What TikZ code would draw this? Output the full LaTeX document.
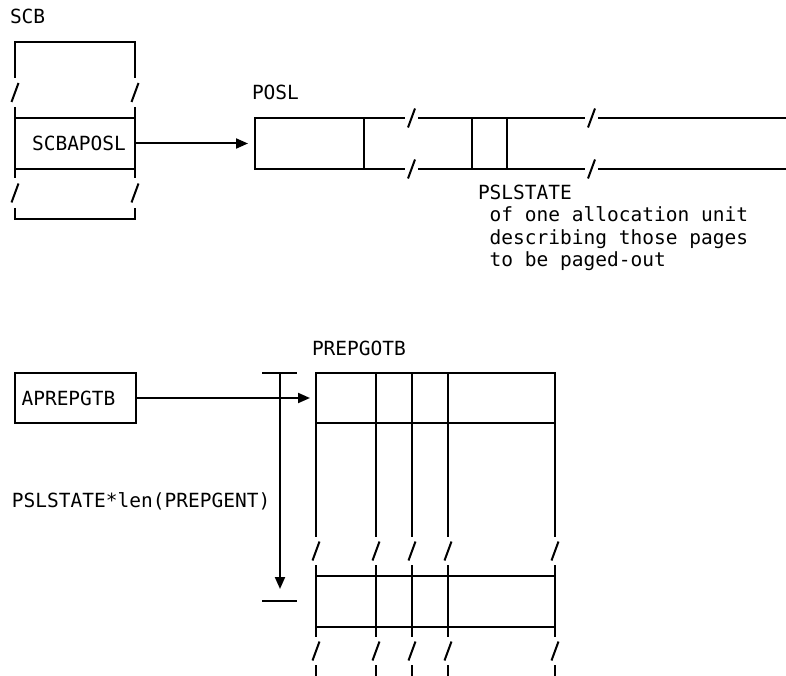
\documentclass[tikz,border=0pt]{standalone}
\usepackage{fontspec}
\setmonofont{DejaVu Sans Mono}
\usetikzlibrary{arrows.meta, positioning}

% slash marks for broken lines
\newcommand{\vslash}[2]{\draw (#1-3.5,#2+9.5) -- (#1+3.5,#2-9.5);}
\newcommand{\hslash}[2]{\draw (#1-3.5,#2+9.5) -- (#1+3.5,#2-9.5);}

\begin{document}
\begin{tikzpicture}[x=1pt, y=-1pt, line width=2pt,
	every node/.style={font=\ttfamily\fontsize{19.5}{22}\selectfont, inner sep=0pt},
	lbl/.style={anchor=base west},
	cell/.style={draw, anchor=north west, outer sep=0pt, minimum height=51pt},
	ptr/.style={-{Triangle[length=12pt, width=10pt]}}]
	\useasboundingbox (0,0) rectangle (786,676);

	% SCB control block
	\node[lbl] (scb) at (9,24) {SCB};
	\draw (15,78) -- (15,42) -- (135,42) -- (135,78);
	\vslash{15}{92.5} \vslash{135}{92.5}
	\draw (15,107) -- (15,178);
	\draw (135,107) -- (135,178);
	\vslash{15}{193} \vslash{135}{193}
	\draw (15,208) -- (15,219) -- (135,219) -- (135,208);
	\node[cell, minimum width=120pt] (scbaposl) at (15,118) {\hspace*{8pt}SCBAPOSL};

	% POSL
	\node[lbl] (posl) at (251,100) {POSL};
	\node[cell, minimum width=109pt] (posl1) at (255,118) {};
	\foreach \y in {118,169} {
		\draw (364,\y) -- (405,\y);
		\hslash{411.5}{\y}
		\draw (418,\y) -- (585,\y);
		\hslash{591.5}{\y}
		\draw (598,\y) -- (786,\y);
	}
	\foreach \x in {472,507}
		\draw (\x,118) -- (\x,169);
	\draw[ptr] (scbaposl.east) -- ([xshift=-7pt]posl1.west);

	% PSLSTATE note
	\foreach \i/\txt in {0/PSLSTATE, 1/\hphantom{x}of one allocation unit, 2/\hphantom{x}describing those pages, 3/\hphantom{x}to be paged-out}
		\node[lbl] (note\i) at (477,200+22*\i) {\txt};

	% PREPGOTB table
	\node[lbl] (prepgotb) at (311,355) {PREPGOTB};
	\node[cell, minimum width=239pt, minimum height=50pt] (prow) at (316,373) {};
	\foreach \x in {316,376,412,448,555} {
		\draw (\x,373) -- (\x,537);
		\vslash{\x}{551}
		\draw (\x,565) -- (\x,637);
		\vslash{\x}{651}
		\draw (\x,665) -- (\x,676);
	}
	\foreach \y in {576,627}
		\draw (316,\y) -- (555,\y);

	% APREPGTB pointer
	\node[cell, minimum width=121pt, minimum height=50pt] (aprepgtb) at (15,373) {APREPGTB\hspace*{14pt}};

	% length of the table
	\coordinate (dtop) at (280,373);
	\coordinate (dbot) at (280,601);
	\draw ([xshift=-18pt]dtop) -- ([xshift=17pt]dtop);
	\draw ([xshift=-18pt]dbot) -- ([xshift=17pt]dbot);
	\draw[ptr, shorten >=12pt] (dtop) -- (dbot);
	\node[lbl] (lenlbl) at (11,507) {PSLSTATE*len(PREPGENT)};

	\draw[ptr] (aprepgtb.east) -- ([xshift=-6pt]prow.west);
\end{tikzpicture}
\end{document}
